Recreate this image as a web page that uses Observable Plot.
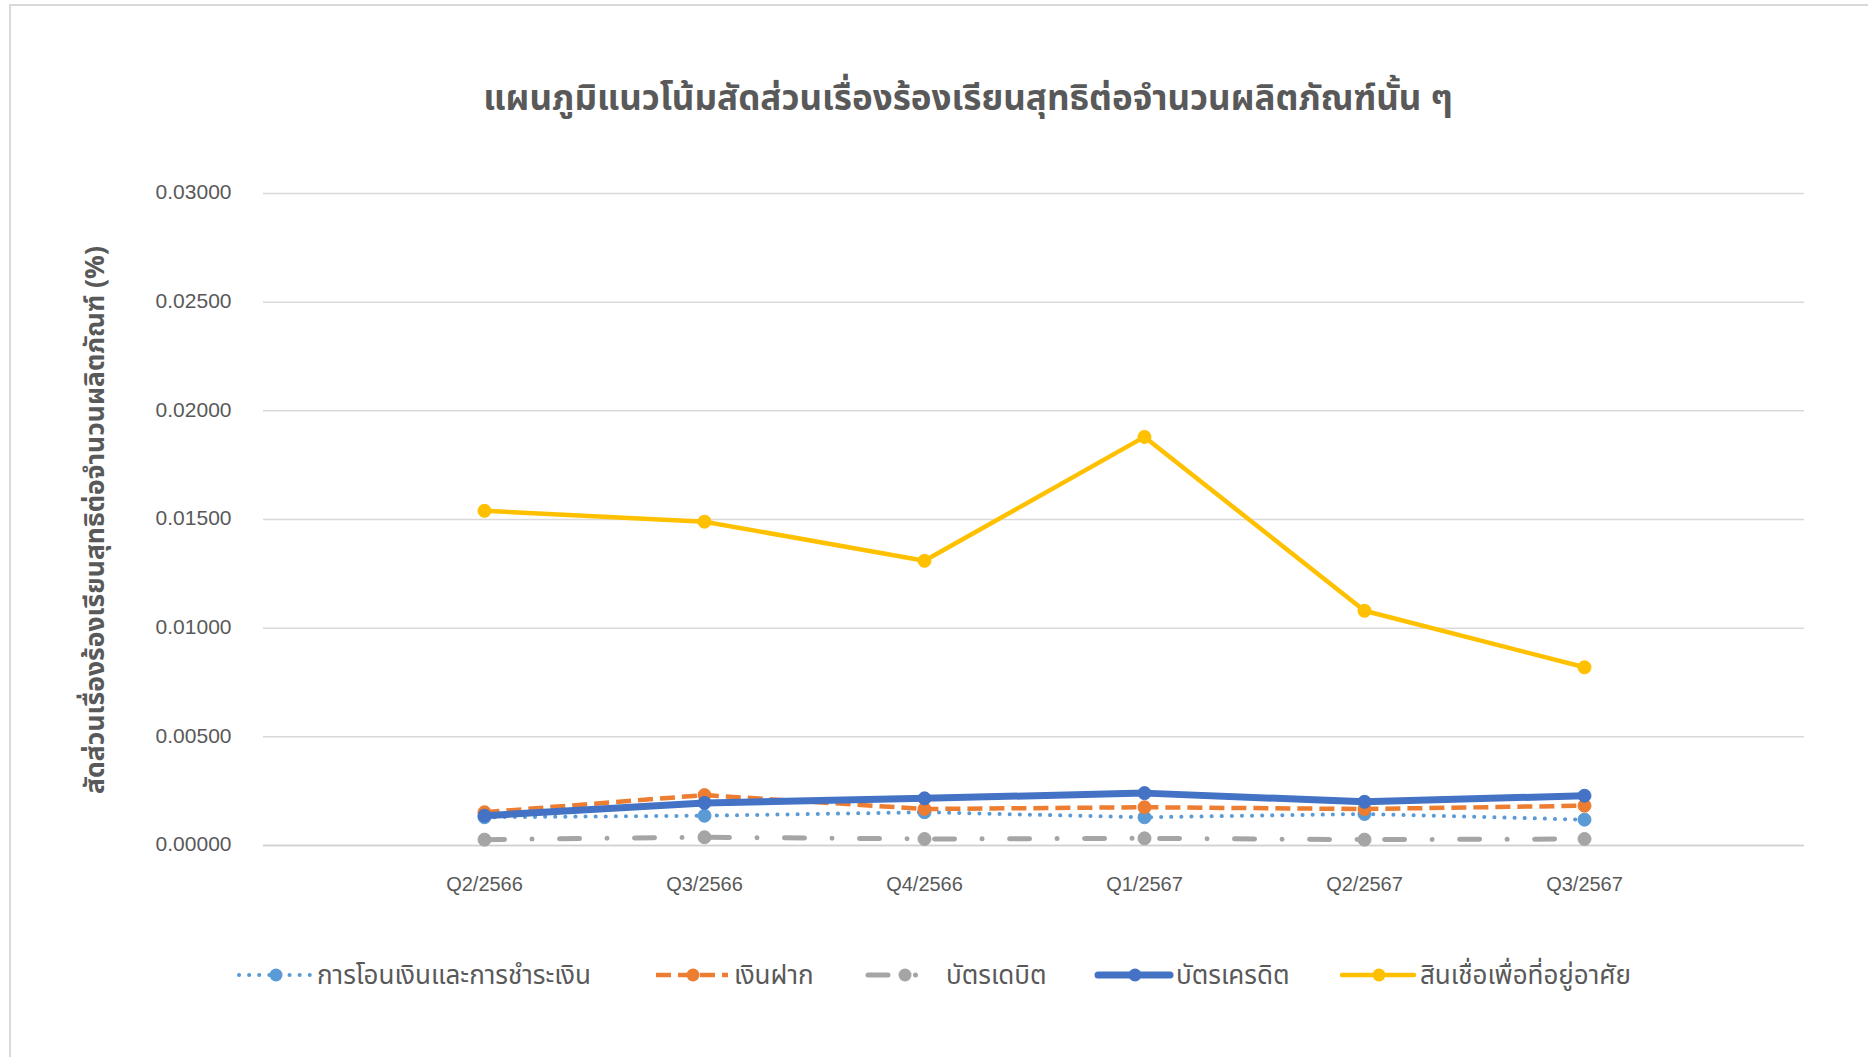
<!DOCTYPE html>
<html>
<head>
<meta charset="utf-8">
<script src="https://cdn.jsdelivr.net/npm/d3@7"></script>
<script src="https://cdn.jsdelivr.net/npm/@observablehq/plot@0.6"></script>
<style>
  body { margin: 0; background: #fff; }
  #root { position: relative; width: 1868px; height: 1057px; overflow: hidden; background: #fff; }
  #frame { position: absolute; left: 9px; top: 4px; width: 1950px; height: 1150px; border: 2px solid #d9d9d9; box-sizing: border-box; }
  .thai { font-family: "Noto Sans Thai", "Noto Sans Thai UI", Tahoma, "Leelawadee UI", Loma, Garuda, Sarabun, Waree, "Noto Sans", sans-serif; }
  #title { position: absolute; left: 0; width: 1936px; top: 75px; height: 50px; line-height: 50px; text-align: center; font-size: 35px; font-weight: bold; color: #595959; }
  #ylabel { position: absolute; left: -204px; top: 502px; width: 600px; height: 36px; line-height: 36px; text-align: center; transform: rotate(-90deg); font-size: 26.5px; font-weight: bold; color: #595959; white-space: nowrap; }
  #chart { position: absolute; left: 0; top: 0; }
  #legend { position: absolute; left: 0; top: 950px; }
</style>
</head>
<body>
<div id="root">
  <div id="frame"></div>
  <div id="chart"></div>
  <div id="title" class="thai">แผนภูมิแนวโน้มสัดส่วนเรื่องร้องเรียนสุทธิต่อจำนวนผลิตภัณฑ์นั้น ๆ</div>
  <div id="ylabel" class="thai">สัดส่วนเรื่องร้องเรียนสุทธิต่อจำนวนผลิตภัณฑ์ (%)</div>
  <svg id="legend" width="1868" height="50"></svg>
</div>
<script>
// ---- data ----
const categories = ["Q2/2566", "Q3/2566", "Q4/2566", "Q1/2567", "Q2/2567", "Q3/2567"];
const seriesNames = ["การโอนเงินและการชำระเงิน", "เงินฝาก", "บัตรเดบิต", "บัตรเครดิต", "สินเชื่อเพื่อที่อยู่อาศัย"];
const transferPayment = [0.00130, 0.00137, 0.00153, 0.00130, 0.00145, 0.00119];
const deposit = [0.00153, 0.00232, 0.00168, 0.00176, 0.00168, 0.00183];
const debitCard = [0.00027, 0.00038, 0.00030, 0.00033, 0.00027, 0.00030];
const creditCard = [0.00137, 0.00196, 0.00217, 0.00241, 0.00201, 0.00229];
const housingLoan = [0.0154, 0.0149, 0.0131, 0.0188, 0.0108, 0.0082];
const yTicks = [0, 0.005, 0.01, 0.015, 0.02, 0.025, 0.03];

// ---- styles ----
const seriesValues = [transferPayment, deposit, debitCard, creditCard, housingLoan];
const seriesStyles = [
  {color: "#5B9BD5", width: 4, dash: "0.1,10", cap: "round"},
  {color: "#ED7D31", width: 4.5, dash: "15,7", cap: "butt"},
  {color: "#A5A5A5", width: 5, dash: "20,27.5,0.01,27.5", cap: "round"},
  {color: "#4472C4", width: 7, dash: null, cap: "round"},
  {color: "#FFC000", width: 4.5, dash: null, cap: "round"}
];
const markerR = 6.5;

const seriesRows = seriesValues.map((vals, i) =>
  categories.map((c, j) => ({category: c, value: vals[j], series: seriesNames[i]})));

const marks = [
  Plot.gridY(yTicks, {stroke: "#d9d9d9", strokeOpacity: 1, strokeWidth: 1.5}),
  Plot.ruleY([0], {stroke: "#d0d0d0", strokeWidth: 1.5}),
  Plot.axisY(yTicks, {tickSize: 0, tickPadding: 32, tickFormat: d3.format(".5f"), fontSize: 21, label: null, dy: -1}),
  Plot.axisX({tickSize: 0, tickPadding: 31, fontSize: 20, label: null, dx: 0})
];
seriesRows.forEach((rows, i) => {
  const s = seriesStyles[i];
  marks.push(Plot.line(rows, {
    x: "category", y: "value", stroke: s.color, strokeWidth: s.width,
    strokeDasharray: s.dash || undefined, strokeLinecap: s.cap, strokeLinejoin: "round"
  }));
  marks.push(Plot.dot(rows, {x: "category", y: "value", r: markerR, fill: s.color, stroke: s.color, strokeWidth: 1}));
});

const chart = Plot.plot({
  width: 1868,
  height: 920,
  marginTop: 193,
  marginBottom: 75,
  marginLeft: 263,
  marginRight: 64,
  style: {fontFamily: "'Liberation Sans', Arial, sans-serif", color: "#595959", background: "transparent"},
  x: {type: "point", domain: categories, padding: 1},
  y: {domain: [0, 0.03]},
  marks
});
document.getElementById("chart").appendChild(chart);

// ---- legend ----
const legendX = [239, 656, 868, 1098, 1342];
const legend = d3.select("#legend");
seriesNames.forEach((name, i) => {
  const s = seriesStyles[i];
  const x0 = legendX[i];
  const g = legend.append("g").attr("transform", `translate(${x0},25)`);
  g.append("line").attr("x1", 0).attr("x2", 72).attr("y1", 0).attr("y2", 0)
    .attr("stroke", s.color).attr("stroke-width", s.width)
    .attr("stroke-dasharray", s.dash).attr("stroke-linecap", s.cap);
  g.append("circle").attr("cx", 37).attr("cy", 0).attr("r", markerR).attr("fill", s.color);
  g.append("text").attr("x", 78).attr("y", 0).attr("dy", "0.35em")
    .attr("class", "thai").attr("fill", "#595959").attr("font-size", 26).text(name);
});
</script>
</body>
</html>
